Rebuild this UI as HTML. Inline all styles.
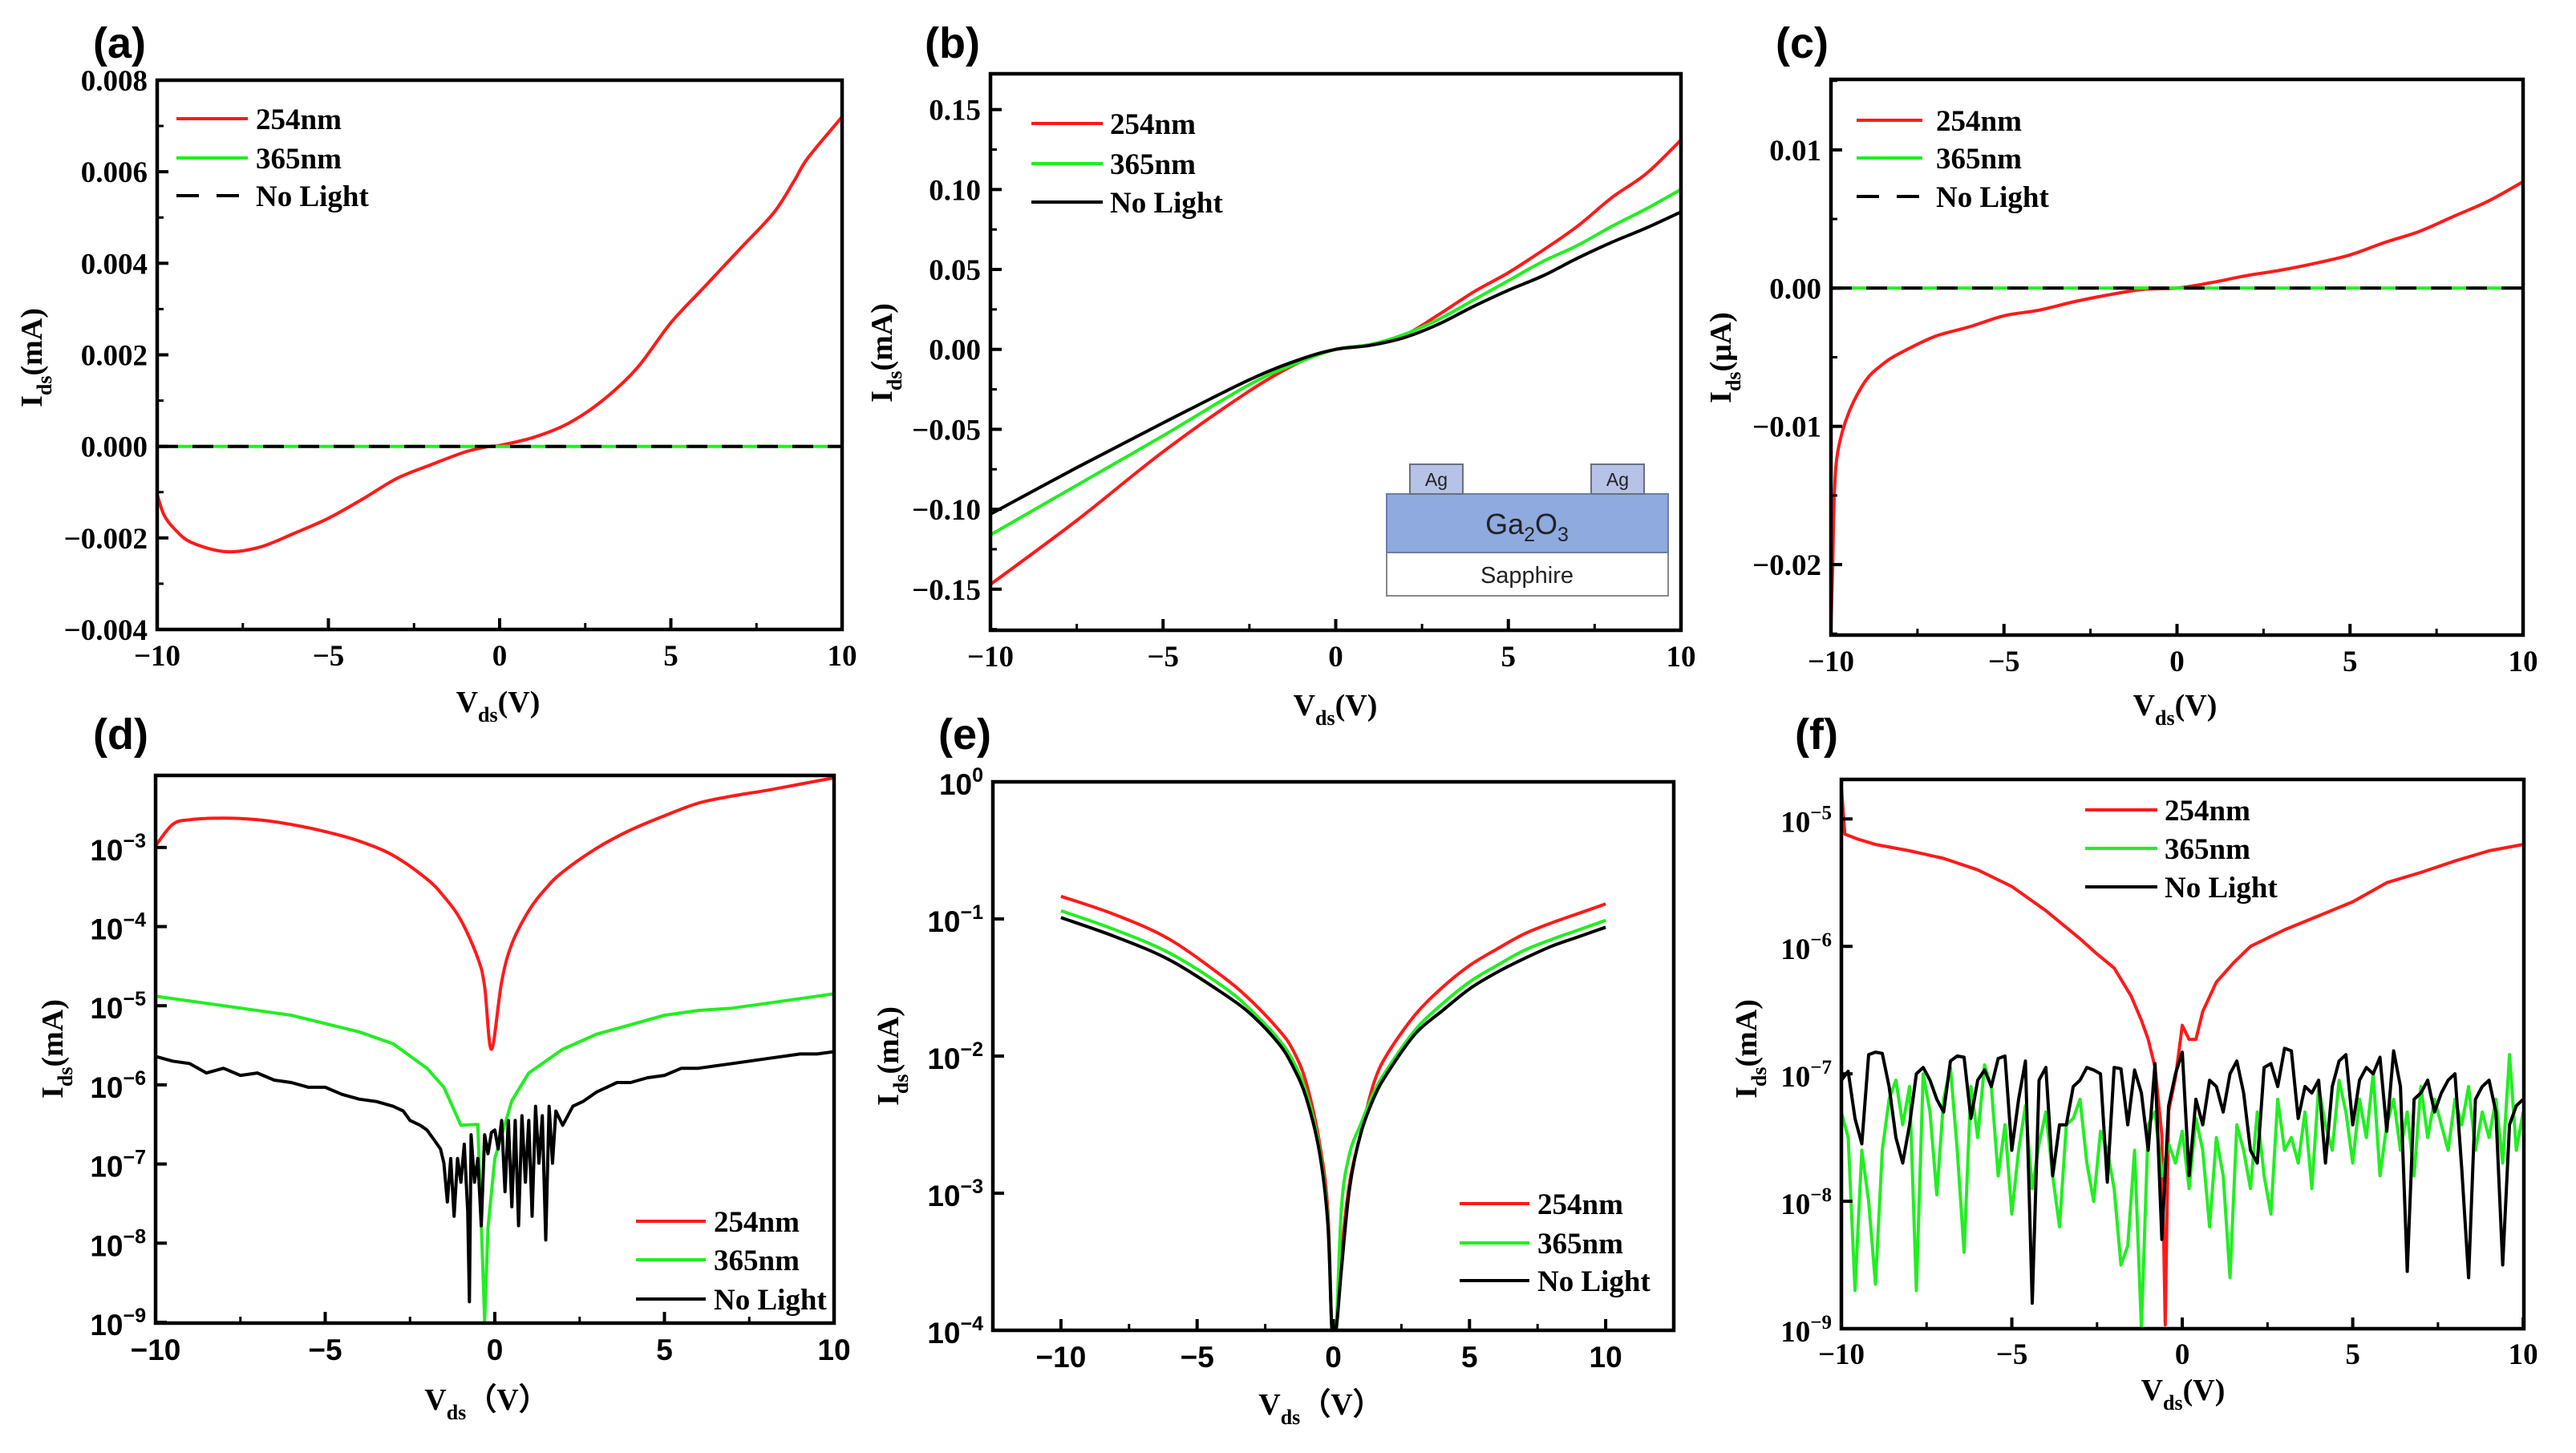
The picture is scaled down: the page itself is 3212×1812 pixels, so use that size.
<!DOCTYPE html>
<html><head><meta charset="utf-8"><style>
html,body{margin:0;padding:0;background:#fff;}
svg{display:block;}
</style></head><body>
<svg id="fig" xmlns="http://www.w3.org/2000/svg" width="3212" height="1812" viewBox="0 0 3212 1812">
<rect x="0" y="0" width="3212" height="1812" fill="#fff"/>
</svg>
<script>
// ---------- DATA ----------
// (a) linear, mA
const aX = [-10,-9.8,-9.5,-9,-8,-7,-6,-5,-4,-3,-2,-1,-0.3,0,1,2,3,4,5,6,7,8,8.6,9,10];
const a254 = [-0.00105,-0.0015,-0.0018,-0.0021,-0.0023,-0.0022,-0.0019,-0.00157,-0.00115,-0.0007,-0.0004,-0.00012,0,0.00002,0.0002,0.0005,0.001,0.0017,0.0027,0.0035,0.0043,0.0051,0.0058,0.0063,0.0072];
const a365 = [0,0,0,0,0,0,0,0,0,0,0,0,0,0,0,0,0,0,0,0,0,0,0,0,0];
const aDark = [0,0,0,0,0,0,0,0,0,0,0,0,0,0,0,0,0,0,0,0,0,0,0,0,0];
// (b) linear, mA
const bX = [-10,-7.5,-5,-2.5,-1,0,1,2,3,4,5,6,7,8,9,10];
const b254 = [-0.147,-0.107,-0.064,-0.026,-0.0075,0,0.003,0.009,0.022,0.036,0.048,0.062,0.077,0.095,0.11,0.131];
const b365 = [-0.116,-0.085,-0.054,-0.022,-0.0075,0,0.003,0.0095,0.019,0.031,0.043,0.055,0.065,0.077,0.088,0.1];
const bDark = [-0.103,-0.074,-0.046,-0.019,-0.006,0,0.0025,0.0075,0.016,0.027,0.037,0.046,0.057,0.067,0.076,0.086];
// (c) linear, uA
const cX = [-10,-9.95,-9.9,-9.8,-9.5,-9,-8.5,-8,-7,-6,-5,-4,-3,-2,-1,0,1,2,3,4,5,6,7,8,9,10];
const c254 = [-0.0247,-0.02,-0.0148,-0.0118,-0.0091,-0.0067,-0.0055,-0.0047,-0.0035,-0.0028,-0.002,-0.0016,-0.001,-0.0005,-0.0001,0,0.0004,0.0009,0.0013,0.0018,0.0024,0.0033,0.0041,0.0052,0.0063,0.0077];
const c365 = [0,0,0,0,0,0,0,0,0,0,0,0,0,0,0,0,0,0,0,0,0,0,0,0,0,0];
const cDark = [0,0,0,0,0,0,0,0,0,0,0,0,0,0,0,0,0,0,0,0,0,0,0,0,0,0];
// (d) log10(I / mA)
const d254X = [-10,-9.5,-9,-8,-7,-6,-5,-4,-3,-2,-1.5,-1,-0.5,-0.3,-0.1,0.2,0.5,1,1.5,2,3,4,5,6,7,8,9,10];
const d254 = [-2.98,-2.71,-2.65,-2.63,-2.65,-2.71,-2.80,-2.92,-3.10,-3.40,-3.62,-3.92,-4.40,-4.76,-5.55,-4.70,-4.22,-3.80,-3.52,-3.31,-3.01,-2.78,-2.60,-2.44,-2.35,-2.28,-2.20,-2.12];
const d365X = [-10,-8,-6,-4,-3,-2,-1.5,-1,-0.5,-0.3,-0.2,0,0.5,1,2,3,4,5,6,7,8,9,10];
const d365 = [-4.88,-5.0,-5.12,-5.33,-5.48,-5.79,-6.03,-6.51,-6.5,-8.98,-7.8,-6.93,-6.2,-5.85,-5.55,-5.36,-5.24,-5.12,-5.06,-5.03,-4.97,-4.91,-4.85];
const dDarkX = [-10,-9.5,-9,-8.5,-8,-7.5,-7,-6.5,-6,-5.5,-5,-4.5,-4,-3.5,-3,-2.7,-2.5,-2.2,-2,-1.8,-1.6,-1.5,-1.4,-1.3,-1.2,-1.1,-1,-0.9,-0.8,-0.75,-0.7,-0.6,-0.5,-0.4,-0.3,-0.2,-0.1,0,0.1,0.2,0.3,0.4,0.5,0.6,0.7,0.8,0.9,1.0,1.1,1.2,1.3,1.4,1.5,1.6,1.7,1.8,2,2.3,2.6,3,3.3,3.6,4,4.5,5,5.5,6,7,8,9,9.5,10];
const dDark = [-5.64,-5.70,-5.73,-5.85,-5.79,-5.88,-5.85,-5.94,-5.97,-6.03,-6.03,-6.12,-6.18,-6.21,-6.27,-6.33,-6.45,-6.51,-6.57,-6.69,-6.81,-6.99,-7.48,-6.93,-7.66,-6.93,-7.23,-6.75,-7.60,-8.74,-6.63,-7.23,-6.93,-7.78,-6.63,-6.87,-6.60,-6.57,-6.81,-6.45,-7.35,-6.45,-7.54,-6.45,-7.78,-6.39,-7.23,-6.45,-7.66,-6.27,-6.99,-6.39,-7.96,-6.27,-6.99,-6.33,-6.51,-6.27,-6.21,-6.09,-6.03,-5.97,-5.97,-5.91,-5.88,-5.79,-5.79,-5.73,-5.67,-5.61,-5.61,-5.58];
// (e) log10(I / mA)
const eX = [-10,-8,-6,-4,-3,-2,-1.5,-1,-0.5,-0.2,-0.05,0.1,0.3,0.6,1,1.5,2,3,4,5,6,7,8,9,10];
const e254 = [-0.835,-0.97,-1.15,-1.43,-1.6,-1.81,-1.95,-2.19,-2.64,-3.13,-4,-4,-3.44,-2.92,-2.57,-2.19,-1.98,-1.70,-1.50,-1.34,-1.22,-1.11,-1.03,-0.96,-0.89];
const e365 = [-0.94,-1.08,-1.25,-1.50,-1.67,-1.88,-2.03,-2.26,-2.68,-3.2,-4,-4,-3.10,-2.71,-2.50,-2.26,-2.09,-1.81,-1.62,-1.46,-1.34,-1.23,-1.15,-1.08,-1.01];
const eDark = [-0.99,-1.13,-1.30,-1.55,-1.70,-1.91,-2.07,-2.30,-2.71,-3.23,-4,-4,-3.55,-2.96,-2.57,-2.30,-2.12,-1.84,-1.67,-1.51,-1.39,-1.29,-1.20,-1.13,-1.06];
// (f) log10(I / mA)
const f254X = [-10,-9.9,-9.5,-9,-8,-7,-6,-5,-4,-3,-2.5,-2,-1.5,-1.2,-1,-0.8,-0.6,-0.5,-0.4,-0.2,0,0.2,0.4,0.6,1,1.5,2,3,4,5,6,7,8,9,10];
const f254 = [-4.75,-5.12,-5.16,-5.20,-5.25,-5.31,-5.40,-5.53,-5.72,-5.94,-6.06,-6.17,-6.39,-6.58,-6.73,-6.95,-7.48,-8.97,-7.29,-7.03,-6.62,-6.73,-6.73,-6.51,-6.28,-6.13,-6.0,-5.87,-5.76,-5.65,-5.50,-5.42,-5.33,-5.25,-5.20];
const fDark = [-7.05,-6.98,-7.35,-7.55,-6.85,-6.83,-6.84,-7.10,-7.50,-7.70,
-7.40,-7.00,-6.95,-7.05,-7.20,-7.30,-6.90,-6.86,-6.87,-7.35,
-7.05,-6.97,-7.10,-6.88,-6.86,-7.60,-7.20,-6.90,-8.80,-7.05,
-6.95,-7.80,-7.40,-7.40,-7.10,-7.05,-6.95,-6.97,-7.00,-7.85,
-6.95,-6.96,-7.40,-6.97,-7.15,-7.60,-6.92,-8.30,-7.25,-7.00,
-6.83,-7.80,-7.20,-7.40,-7.05,-7.10,-7.30,-7.00,-6.90,-7.15,
-7.60,-7.70,-6.95,-6.92,-7.10,-6.80,-6.82,-7.35,-7.10,-7.15,
-7.05,-7.70,-7.10,-6.90,-6.85,-7.40,-7.05,-6.95,-7.00,-6.87,
-7.45,-6.82,-7.10,-8.55,-7.20,-7.15,-7.05,-7.30,-7.15,-7.05,
-7.00,-7.75,-8.60,-7.20,-7.10,-7.05,-7.30,-8.50,-7.40,-7.25,
-7.20];
const f365 = [-7.30,-7.50,-8.70,-7.60,-8.00,-8.65,-7.60,-7.20,-7.05,-7.40,
-7.10,-8.70,-7.00,-7.30,-7.95,-7.20,-6.95,-7.60,-8.40,-7.10,
-7.50,-6.93,-7.10,-7.80,-7.40,-8.10,-7.60,-7.25,-7.90,-7.55,
-7.30,-7.80,-8.20,-7.40,-7.35,-7.20,-7.70,-8.00,-7.45,-7.60,
-7.90,-8.50,-8.35,-7.60,-9.00,-7.40,-7.30,-7.80,-7.55,-7.70,
-7.45,-7.90,-7.35,-7.60,-8.20,-7.50,-7.80,-8.60,-7.40,-7.60,
-7.90,-7.30,-7.80,-8.10,-7.20,-7.60,-7.50,-7.70,-7.30,-7.90,
-7.10,-7.40,-7.60,-7.05,-7.30,-7.70,-7.20,-7.50,-7.00,-7.80,
-7.40,-7.20,-7.60,-7.30,-7.80,-7.10,-7.50,-7.20,-7.40,-7.60,
-7.20,-7.40,-7.10,-7.60,-7.30,-7.50,-7.20,-7.70,-6.85,-7.60,
-7.30];
const fNoiseX = [];
for (let i = 0; i <= 100; i++) fNoiseX.push(-10 + i * 0.2);

// tick labels
const linXTicks = [-10,-5,0,5,10];
const eXTicks = [-10,-5,0,5,10];
const aYTicks = [0.008,0.006,0.004,0.002,0,-0.002,-0.004];
const aYLabels = ["0.008","0.006","0.004","0.002","0.000","\u22120.002","\u22120.004"];
const bYTicks = [0.15,0.1,0.05,0,-0.05,-0.1,-0.15];
const bYLabels = ["0.15","0.10","0.05","0.00","\u22120.05","\u22120.10","\u22120.15"];
const cYTicks = [0.01,0,-0.01,-0.02];
const cYLabels = ["0.01","0.00","\u22120.01","\u22120.02"];
const dYTicks = [-3,-4,-5,-6,-7,-8,-9];
const eYTicks = [0,-1,-2,-3,-4];
const fYTicks = [-5,-6,-7,-8,-9];
const legendNames = {"254nm":"254nm","365nm":"365nm","no-light":"No Light"};

// ---------- DRAWING ----------
const NS = "http://www.w3.org/2000/svg";
const svg = document.getElementById("fig");
function mk(tag, attrs, parent) {
  const el = document.createElementNS(NS, tag);
  for (const k in attrs) el.setAttribute(k, attrs[k]);
  (parent || svg).appendChild(el);
  return el;
}
const SERIF = "'Liberation Serif', serif";
const SANS = "'Liberation Sans', sans-serif";
let clipId = 0;

function fmtMinus(v) { return String(v).replace("-", "\u2212"); }

function pathD(pts, smooth) {
  let d = "M" + pts[0][0].toFixed(1) + "," + pts[0][1].toFixed(1);
  if (!smooth) {
    for (let i = 1; i < pts.length; i++) d += "L" + pts[i][0].toFixed(1) + "," + pts[i][1].toFixed(1);
    return d;
  }
  for (let i = 0; i < pts.length - 1; i++) {
    const p0 = pts[Math.max(0, i - 1)], p1 = pts[i], p2 = pts[i + 1], p3 = pts[Math.min(pts.length - 1, i + 2)];
    const c1x = p1[0] + (p2[0] - p0[0]) / 6, c1y = p1[1] + (p2[1] - p0[1]) / 6;
    const c2x = p2[0] - (p3[0] - p1[0]) / 6, c2y = p2[1] - (p3[1] - p1[1]) / 6;
    d += "C" + c1x.toFixed(1) + "," + c1y.toFixed(1) + " " + c2x.toFixed(1) + "," + c2y.toFixed(1) + " " + p2[0].toFixed(1) + "," + p2[1].toFixed(1);
  }
  return d;
}

function panel(p) {
  const g = mk("g", {});
  
  
  const F = p.frame;
  const sx = v => F.l + (v - p.xd[0]) / (p.xd[1] - p.xd[0]) * (F.r - F.l);
  const sy = v => F.b - (v - p.yd[0]) / (p.yd[1] - p.yd[0]) * (F.b - F.t);
  const lab = mk("text", {x: p.labelX, y: p.labelY, "font-family": SANS, "font-weight": "bold", "font-size": 54, fill: "#000"}, g);
  
  
  lab.textContent = "(" + p.id + ")";
  const cid = "clip" + (clipId++);
  const cp = mk("clipPath", {id: cid}, g);
  mk("rect", {x: F.l, y: F.t, width: F.r - F.l, height: F.b - F.t}, cp);
  const sg = mk("g", {"clip-path": "url(#" + cid + ")"}, g);
  p.series.forEach(s => {
    const pts = s.xs.map((x, i) => [sx(x), sy(s.ys[i])]);
    const path = mk("path", {d: pathD(pts, s.smooth), fill: "none", stroke: s.color, "stroke-width": 4, "stroke-linejoin": "round"}, sg);
    if (s.dash) path.setAttribute("stroke-dasharray", "26 18");
    
    
  });
  const fr = mk("rect", {x: F.l, y: F.t, width: F.r - F.l, height: F.b - F.t, fill: "none", stroke: "#000", "stroke-width": 4.5}, g);
  
  
  const xg = mk("g", {}, g);
  
  
  p.xTicks.forEach(v => {
    mk("line", {x1: sx(v), x2: sx(v), y1: F.b, y2: F.b - 14, stroke: "#000", "stroke-width": 4}, xg);
    const t = mk("text", {x: sx(v), y: F.b + p.xLabOff, "text-anchor": "middle", "font-family": p.xFont, "font-weight": "bold", "font-size": 37, fill: "#000"}, xg);
    
    
    t.textContent = fmtMinus(v);
  });
  for (let v = p.xTicks[0] + 2.5; v < p.xTicks[p.xTicks.length - 1]; v += 5) {
    mk("line", {x1: sx(v), x2: sx(v), y1: F.b, y2: F.b - 8, stroke: "#000", "stroke-width": 3}, xg);
  }
  const yg = mk("g", {}, g);
  
  
  p.yTicks.forEach((v, i) => {
    mk("line", {x1: F.l, x2: F.l + 14, y1: sy(v), y2: sy(v), stroke: "#000", "stroke-width": 4}, yg);
    const t = mk("text", {x: F.l - 12, y: sy(v) + 13, "text-anchor": "end", "font-family": p.yFont, "font-weight": "bold", "font-size": 37, fill: "#000"}, yg);
    
    
    if (p.log) {
      t.setAttribute("y", sy(v) + 16);
      t.appendChild(document.createTextNode("10"));
      const sup = mk("tspan", {dy: -16, "font-size": 25}, t);
      sup.textContent = fmtMinus(v);
    } else {
      t.textContent = p.yLabels[i];
    }
  });
  if (p.yMinor) {
    for (let v = p.yd[0]; v <= p.yd[1] + 1e-9; v += p.yMinor) {
      const vv = Math.round(v / p.yMinor) * p.yMinor;
      if (vv < p.yd[0] || vv > p.yd[1]) continue;
      mk("line", {x1: F.l, x2: F.l + 8, y1: sy(vv), y2: sy(vv), stroke: "#000", "stroke-width": 3}, yg);
    }
  }
  const xt = mk("text", {x: p.xTitle[0], y: p.xTitle[1], "text-anchor": "middle", "font-family": SERIF, "font-weight": "bold", "font-size": 38, fill: "#000"}, g);
  
  
  xt.appendChild(document.createTextNode("V"));
  const xs1 = mk("tspan", {dy: 12, "font-size": 26}, xt); xs1.textContent = "ds";
  const xs2 = mk("tspan", {dy: -12}, xt); xs2.textContent = p.xUnit;
  const yt = mk("text", {x: 0, y: 0, "text-anchor": "middle", "font-family": SERIF, "font-weight": "bold", "font-size": 38, fill: "#000", transform: "translate(" + p.yTitle[0] + "," + p.yTitle[1] + ") rotate(-90)"}, g);
  
  
  yt.appendChild(document.createTextNode("I"));
  const ys1 = mk("tspan", {dy: 12, "font-size": 26}, yt); ys1.textContent = "ds";
  const ys2 = mk("tspan", {dy: -12}, yt); ys2.textContent = p.yUnit;
  const lg = mk("g", {}, g);
  
  
  p.series.forEach((s, i) => {
    const y = p.legend.ys[i];
    const ln = mk("line", {x1: p.legend.x1, x2: p.legend.x2, y1: y, y2: y, stroke: s.color, "stroke-width": 4}, lg);
    if (s.dash) ln.setAttribute("stroke-dasharray", "28 22");
    
    
    const t = mk("text", {x: p.legend.tx, y: y + 13, "font-family": SERIF, "font-weight": "bold", "font-size": 37, fill: "#000"}, lg);
    
    
    t.textContent = legendNames[s.key];
  });
}

const RED = "#ff1a1a", GREEN = "#22ee22", BLACK = "#000";

panel({id: "a", frame: {l:196,t:100,r:1050,b:785}, xd:[-10,10], yd:[-0.004,0.008],
  labelX:116, labelY:72, xTicks: linXTicks, yTicks: aYTicks, yLabels: aYLabels, yMinor: 0.001,
  xFont: SERIF, yFont: SERIF, xLabOff: 45, xTitle:[621,888], xUnit:"(V)", yTitle:[52,446], yUnit:"(mA)",
  series: [{key:"254nm", xs:aX, ys:a254, color:RED, smooth:true}, {key:"365nm", xs:aX, ys:a365, color:GREEN}, {key:"no-light", xs:aX, ys:aDark, color:BLACK, dash:true}],
  legend: {x1:220, x2:309, tx:319, ys:[148,197,244]}});

panel({id: "b", frame: {l:1235,t:92,r:2096,b:786}, xd:[-10,10], yd:[-0.1757,0.1724],
  labelX:1153, labelY:72, xTicks: linXTicks, yTicks: bYTicks, yLabels: bYLabels, yMinor: 0.025,
  xFont: SERIF, yFont: SERIF, xLabOff: 45, xTitle:[1665,892], xUnit:"(V)", yTitle:[1112,440], yUnit:"(mA)",
  series: [{key:"254nm", xs:bX, ys:b254, color:RED, smooth:true}, {key:"365nm", xs:bX, ys:b365, color:GREEN, smooth:true}, {key:"no-light", xs:bX, ys:bDark, color:BLACK, smooth:true}],
  legend: {x1:1286, x2:1375, tx:1384, ys:[154,204,252]}});

panel({id: "c", frame: {l:2283,t:99,r:3146,b:792}, xd:[-10,10], yd:[-0.0251,0.0151],
  labelX:2214, labelY:72, xTicks: linXTicks, yTicks: cYTicks, yLabels: cYLabels, yMinor: 0.005,
  xFont: SERIF, yFont: SERIF, xLabOff: 45, xTitle:[2712,892], xUnit:"(V)", yTitle:[2158,446], yUnit:"(\u03bcA)",
  series: [{key:"254nm", xs:cX, ys:c254, color:RED, smooth:true}, {key:"365nm", xs:cX, ys:c365, color:GREEN}, {key:"no-light", xs:cX, ys:cDark, color:BLACK, dash:true}],
  legend: {x1:2315, x2:2397, tx:2414, ys:[150,197,245]}});

panel({id: "d", frame: {l:194,t:967,r:1040,b:1650}, xd:[-10,10], yd:[-9.01,-2.09], log:true,
  labelX:116, labelY:934, xTicks: linXTicks, yTicks: dYTicks,
  xFont: SANS, yFont: SANS, xLabOff: 46, xTitle:[607,1758], xUnit:"\uff08V\uff09", yTitle:[78,1308], yUnit:"(mA)",
  series: [{key:"254nm", xs:d254X, ys:d254, color:RED, smooth:true}, {key:"365nm", xs:d365X, ys:d365, color:GREEN}, {key:"no-light", xs:dDarkX, ys:dDark, color:BLACK}],
  legend: {x1:793, x2:880, tx:890, ys:[1523,1571,1620]}});

panel({id: "e", frame: {l:1238,t:975,r:2087,b:1659}, xd:[-12.5,12.5], yd:[-4,0], log:true,
  labelX:1170, labelY:934, xTicks: eXTicks, yTicks: eYTicks,
  xFont: SANS, yFont: SANS, xLabOff: 46, xTitle:[1647,1764], xUnit:"\uff08V\uff09", yTitle:[1120,1317], yUnit:"(mA)",
  series: [{key:"254nm", xs:eX, ys:e254, color:RED, smooth:true}, {key:"365nm", xs:eX, ys:e365, color:GREEN, smooth:true}, {key:"no-light", xs:eX, ys:eDark, color:BLACK, smooth:true}],
  legend: {x1:1820, x2:1907, tx:1917, ys:[1501,1550,1597]}});

panel({id: "f", frame: {l:2296,t:972,r:3147,b:1657}, xd:[-10,10.02], yd:[-9,-4.69], log:true,
  labelX:2238, labelY:934, xTicks: linXTicks, yTicks: fYTicks,
  xFont: SERIF, yFont: SERIF, xLabOff: 44, xTitle:[2722,1746], xUnit:"(V)", yTitle:[2190,1308], yUnit:"(mA)",
  series: [{key:"254nm", xs:f254X, ys:f254, color:RED}, {key:"365nm", xs:fNoiseX, ys:f365, color:GREEN}, {key:"no-light", xs:fNoiseX, ys:fDark, color:BLACK}],
  legend: {x1:2600, x2:2690, tx:2699, ys:[1010,1058,1106]}});

// ---------- INSET (b) ----------
const ig = mk("g", {});


const sap = mk("rect", {x:1729, y:689, width:351, height:54, fill:"#fff", stroke:"#888", "stroke-width":2}, ig);


const ga = mk("rect", {x:1729, y:616, width:351, height:73, fill:"#8eaadf", stroke:"#6a7fa8", "stroke-width":2}, ig);


[[1758,"ag-contact-left"],[1984,"ag-contact-right"]].forEach(([x, nm]) => {
  const r = mk("rect", {x:x, y:579, width:66, height:37, fill:"#b6c2e6", stroke:"#6a7080", "stroke-width":2}, ig);
  
  
  const t = mk("text", {x:x+33, y:606, "text-anchor":"middle", "font-family":SANS, "font-size":23, fill:"#222"}, ig);
  
  
  t.textContent = "Ag";
});
const gt = mk("text", {x:1904, y:666, "text-anchor":"middle", "font-family":SANS, "font-size":36, fill:"#222"}, ig);


gt.appendChild(document.createTextNode("Ga"));
const g2 = mk("tspan", {dy:9, "font-size":25}, gt); g2.textContent = "2";
const g3 = mk("tspan", {dy:-9}, gt); g3.textContent = "O";
const g4 = mk("tspan", {dy:9, "font-size":25}, gt); g4.textContent = "3";
const st = mk("text", {x:1904, y:727, "text-anchor":"middle", "font-family":SANS, "font-size":29, fill:"#222"}, ig);


st.textContent = "Sapphire";
</script>
</body></html>
